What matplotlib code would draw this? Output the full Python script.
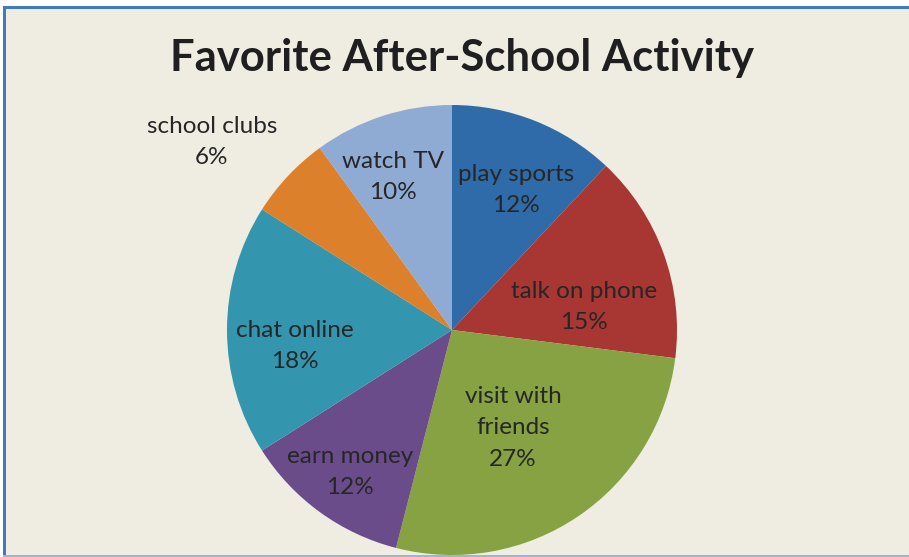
import matplotlib
matplotlib.use("Agg")
import matplotlib.pyplot as plt
from matplotlib.patches import Rectangle

title = "Favorite After-School Activity"
categories = ["play sports", "talk on phone", "visit with friends", "earn money",
              "chat online", "school clubs", "watch TV"]
label_text = ["play sports", "talk on phone", "visit with\nfriends", "earn money",
              "chat online", "school clubs", "watch TV"]
values = [12, 15, 27, 12, 18, 6, 10]
colors = ["#2F6BA8", "#A83632", "#86A242", "#6A4C8A", "#3396AE", "#DD802C", "#8FAAD3"]

# label centres in pixel coordinates (x, y from top)
label_xy = [(516, 190), (584, 307), (513, 428), (350, 472),
            (295, 346), (212, 142), (393, 177)]

W, H = 909, 557
fig = plt.figure(figsize=(W / 100, H / 100), dpi=100)
fig.patch.set_facecolor("white")
ax = fig.add_axes([0, 0, 1, 1])

cx, cy, r = 452, H - 330, 225
ax.pie(values, colors=colors, startangle=90, counterclock=False,
       center=(cx, cy), radius=r, frame=True,
       wedgeprops=dict(linewidth=0, edgecolor="none"))
ax.set_xlim(0, W)
ax.set_ylim(0, H)
ax.set_aspect("auto")
ax.axis("off")

# background panel and borders
ax.add_patch(Rectangle((3, 0), W, H - 6, facecolor="#EFECE1", edgecolor="none", zorder=0))
ax.add_patch(Rectangle((3, H - 9), W, 3, facecolor="#3F7BBF", edgecolor="none", zorder=1))
ax.add_patch(Rectangle((3, 0), 3, H - 6, facecolor="#3F7BBF", edgecolor="none", zorder=1))
ax.add_patch(Rectangle((3, 0), W, 2, facecolor="#9DB5D0", edgecolor="none", zorder=1))

for lab, v, (x, y) in zip(label_text, values, label_xy):
    ax.text(x, H - y, f"{lab}\n{v}%", ha="center", va="center",
            fontsize=17.5, family="Lato", color="#262626", linespacing=1.64, zorder=5)

ax.text(462, H - 58, title, ha="center", va="center", fontsize=31.4,
        fontweight="bold", family="Lato", color="#1F1F1F", zorder=5)

fig.savefig("out.png", dpi=100, facecolor=fig.get_facecolor())
